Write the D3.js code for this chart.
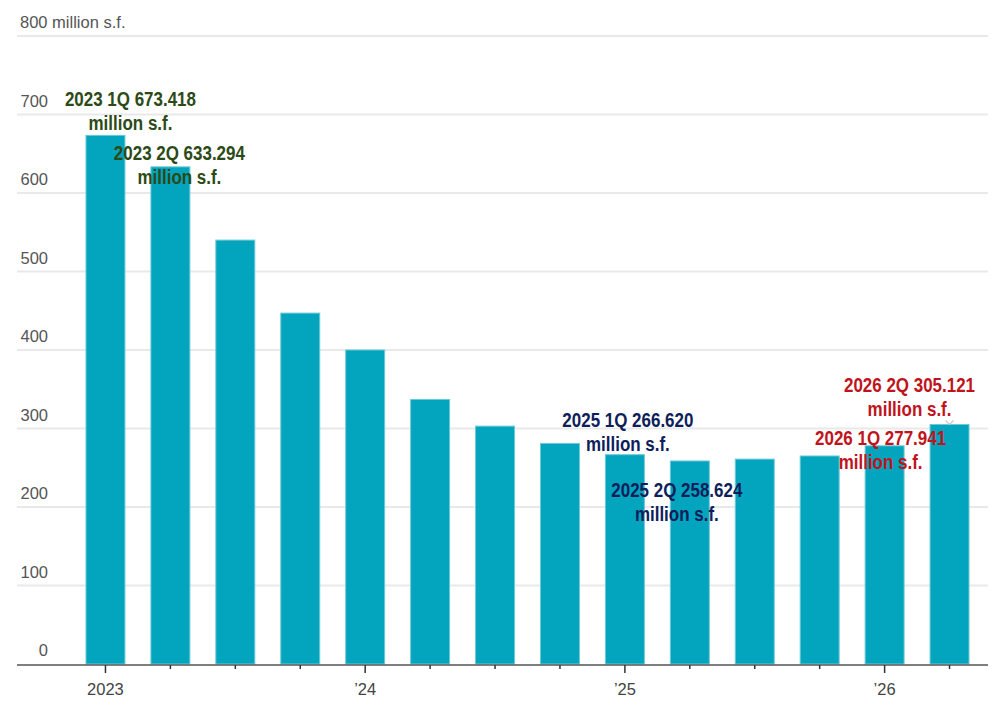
<!DOCTYPE html>
<html><head><meta charset="utf-8">
<script src="https://cdn.jsdelivr.net/npm/d3@7/dist/d3.min.js"></script>
<style>body{margin:0;background:#fff}svg{display:block}</style>
</head><body>
<svg id="c" width="1000" height="717"></svg>
<script>
const quarters = ["2023 1Q","2023 2Q","2023 3Q","2023 4Q","2024 1Q","2024 2Q","2024 3Q","2024 4Q","2025 1Q","2025 2Q","2025 3Q","2025 4Q","2026 1Q","2026 2Q"];
const values = [673.418,633.294,540,447,400,337,303,281,266.620,258.624,261,265,277.941,305.121];
const yTicks = [0,100,200,300,400,500,600,700,800];
const xTickLabels = {"2023 1Q":"2023","2024 1Q":"\u201924","2025 1Q":"\u201925","2026 1Q":"\u201926"};
const annotations = [
  {q:"2023 1Q", dx:25, dy:-29, color:"#2c4a16"},
  {q:"2023 2Q", dx:9, dy:-7, color:"#2c4a16"},
  {q:"2025 1Q", dx:3, dy:-28, color:"#0e1e5a"},
  {q:"2025 2Q", dx:-13, dy:36, color:"#0e1e5a"},
  {q:"2026 1Q", dx:-4, dy:-1, color:"#c0141c"},
  {q:"2026 2Q", dx:-40, dy:-32, color:"#c0141c"}
];

(function(){
const svg = d3.select("#c");
const gLeft = 17, gRight = 988, gTop = 36, gBottom = 664;
const y = d3.scaleLinear().domain([0,800]).range([gBottom, gTop]);
const x = d3.scaleBand().domain(quarters).range([73, 982]).paddingInner(0.4).paddingOuter(0.2);

svg.append("g").selectAll("line").data(yTicks.filter(d=>d>0)).join("line")
  .attr("x1", gLeft).attr("x2", gRight)
  .attr("y1", d=>y(d)).attr("y2", d=>y(d))
  .attr("stroke", "#e9e9e9").attr("stroke-width", 2);

svg.append("g").selectAll("text").data(yTicks).join("text")
  .attr("x", d => d===800 ? 20 : 48)
  .attr("y", d => y(d) - 8)
  .attr("text-anchor", d => d===800 ? "start" : "end")
  .attr("font-family", "Liberation Sans, Arial, sans-serif")
  .attr("font-size", 16.5).attr("fill", "#555")
  .text(d => d===800 ? "800 million s.f." : d);

svg.append("g").selectAll("rect").data(quarters).join("rect")
  .attr("x", d => x(d)).attr("width", x.bandwidth())
  .attr("y", (d,i) => y(values[i])).attr("height", (d,i) => y(0) - y(values[i]))
  .attr("fill", "#02a4be").attr("stroke", "#6cc9d8").attr("stroke-width", 1);

// small hover chevron on last bar
const lq = quarters[quarters.length-1];
const lx = x(lq) + x.bandwidth()/2, ly = y(values[values.length-1]);
svg.append("path").attr("d", `M${lx-4},${ly-4}L${lx},${ly}L${lx+4},${ly-4}`)
  .attr("fill","none").attr("stroke","#c8c8c8").attr("stroke-width",1.2);

const ax = svg.append("g");
ax.append("line").attr("x1", gLeft).attr("x2", gRight).attr("y1", 665).attr("y2", 665)
  .attr("stroke", "#555").attr("stroke-width", 1.5);
ax.selectAll("line.t").data(quarters).join("line").attr("class","t")
  .attr("x1", d => x(d)+x.bandwidth()/2).attr("x2", d => x(d)+x.bandwidth()/2)
  .attr("y1", 665).attr("y2", d => xTickLabels[d] ? 673 : 669)
  .attr("stroke", "#333").attr("stroke-width", 1.5);
ax.selectAll("text").data(quarters.filter(d => xTickLabels[d])).join("text")
  .attr("x", d => x(d)+x.bandwidth()/2).attr("y", 695)
  .attr("text-anchor", "middle")
  .attr("font-family", "Liberation Sans, Arial, sans-serif")
  .attr("font-size", 16.5).attr("fill", "#444")
  .text(d => xTickLabels[d]);

const ag = svg.append("g");
annotations.forEach(a => {
  const i = quarters.indexOf(a.q);
  const cx = x(a.q) + x.bandwidth()/2 + a.dx;
  const by = y(values[i]) + a.dy;
  const t = ag.append("text").attr("text-anchor","middle")
    .attr("transform", `translate(${cx},${by}) scale(0.87,1)`)
    .attr("font-family", "Liberation Sans, Arial, sans-serif")
    .attr("font-weight", "bold").attr("font-size", 19.5).attr("fill", a.color);
  t.append("tspan").attr("x", 0).attr("y", 0).text(a.q + " " + values[i].toFixed(3));
  t.append("tspan").attr("x", 0).attr("y", 24).text("million s.f.");
});
})();
</script>
</body></html>
